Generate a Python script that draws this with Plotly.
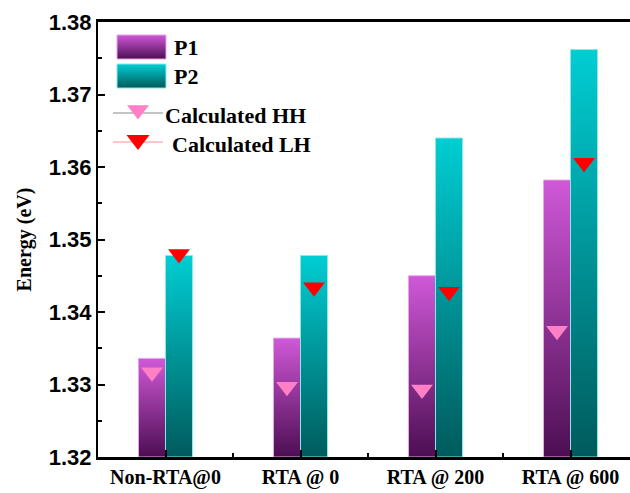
import plotly.graph_objects as go

# ---- data -------------------------------------------------------------
categories = ["Non-RTA@0", "RTA @ 0", "RTA @ 200", "RTA @ 600"]
p1_energy = [1.3336, 1.3364, 1.3450, 1.3582]
p2_energy = [1.3478, 1.3478, 1.3640, 1.3762]
calc_hh = [1.3317, 1.3297, 1.3293, 1.3374]
calc_lh = [1.3480, 1.3434, 1.3428, 1.3606]
y_ticks = [1.32, 1.33, 1.34, 1.35, 1.36, 1.37, 1.38]

# ---- styling ----------------------------------------------------------
Y_MIN, Y_MAX = 1.32, 1.38
BAR_W = 0.2
P1_SCALE = [[0, "#4C0E52"], [1, "#D058D8"]]
P2_SCALE = [[0, "#005A5C"], [1, "#00CED3"]]
P1_EDGE = "#E4A6EA"
P2_EDGE = "#8CE8E8"
HH_COLOR = "#FF80C4"
LH_COLOR = "#FF0000"
SERIF = "Liberation Serif, Times New Roman, serif"
SANS = "Liberation Sans, Arial, sans-serif"

positions = list(range(1, len(categories) + 1))

fig = go.Figure()


def gradient_bar(x0, x1, y0, y1, scale, edge, xaxis="x", yaxis="y"):
    """Rectangle from (x0, y0) to (x1, y1) filled with a vertical gradient
    running from scale[0] at y0 to scale[1] at y1."""
    fig.add_trace(go.Scatter(
        x=[x0, x0, x1, x1, x0],
        y=[y0, y1, y1, y0, y0],
        mode="lines",
        fill="toself",
        fillgradient=dict(type="vertical", colorscale=scale, start=y0, stop=y1),
        line=dict(color=edge, width=1),
        showlegend=False,
        hoverinfo="skip",
        xaxis=xaxis, yaxis=yaxis,
    ))


# bars: P1 left of each category tick, P2 right of it
for pos, v1, v2 in zip(positions, p1_energy, p2_energy):
    gradient_bar(pos - BAR_W, pos, Y_MIN, v1, P1_SCALE, P1_EDGE)
    gradient_bar(pos, pos + BAR_W, Y_MIN, v2, P2_SCALE, P2_EDGE)

# calculated transitions, centred on their bars
fig.add_trace(go.Scatter(
    x=[p - BAR_W / 2 for p in positions], y=calc_hh, mode="markers",
    marker=dict(symbol="triangle-down", size=19, color=HH_COLOR,
                line=dict(width=0)),
    name="Calculated HH", showlegend=False,
))
fig.add_trace(go.Scatter(
    x=[p + BAR_W / 2 for p in positions], y=calc_lh, mode="markers",
    marker=dict(symbol="triangle-down", size=19, color=LH_COLOR,
                line=dict(width=0)),
    name="Calculated LH", showlegend=False,
))

# ---- legend drawn in a pixel-scaled overlay of the plot area ----------
PLOT_W, PLOT_H = 532, 435
gradient_bar(19, 68, 37, 13, P1_SCALE, P1_EDGE, "x2", "y2")
gradient_bar(19, 68, 66, 42, P2_SCALE, P2_EDGE, "x2", "y2")
fig.add_trace(go.Scatter(
    x=[15, 40, 65], y=[91, 91, 91], mode="lines",
    line=dict(color="#8A8A8A", width=1), hoverinfo="skip",
    showlegend=False, xaxis="x2", yaxis="y2"))
fig.add_trace(go.Scatter(
    x=[15, 40, 65], y=[120, 120, 120], mode="lines",
    line=dict(color="#FFB4B4", width=1.5), hoverinfo="skip",
    showlegend=False, xaxis="x2", yaxis="y2"))
fig.add_trace(go.Scatter(
    x=[40], y=[88], mode="markers",
    marker=dict(symbol="triangle-down", size=19, color=HH_COLOR),
    hoverinfo="skip", showlegend=False, xaxis="x2", yaxis="y2"))
fig.add_trace(go.Scatter(
    x=[40], y=[118], mode="markers",
    marker=dict(symbol="triangle-down", size=20, color=LH_COLOR),
    hoverinfo="skip", showlegend=False, xaxis="x2", yaxis="y2"))

legend_font = dict(family=SERIF, size=22, color="black", weight="bold")
for x, y, txt in [(74, 25, "P1"), (74, 54, "P2"),
                  (65, 93, "Calculated HH"), (72, 122, "Calculated LH")]:
    fig.add_annotation(x=x, y=y, xref="x2", yref="y2", text=txt,
                       showarrow=False, xanchor="left", yanchor="middle",
                       font=legend_font)

# ---- axes & layout ----------------------------------------------------
fig.update_layout(
    width=630, height=493,
    margin=dict(l=98, r=0, t=22, b=36),
    paper_bgcolor="white", plot_bgcolor="white",
    showlegend=False,
    xaxis=dict(
        range=[0.5, 0.5 + PLOT_W / 135],
        tickmode="array", tickvals=positions, ticktext=categories,
        ticks="inside", ticklen=7, tickwidth=2, tickcolor="black",
        minor=dict(tickmode="array", tickvals=[1.5, 2.5, 3.5],
                   ticks="inside", ticklen=4, tickwidth=2, tickcolor="black"),
        showline=True, linecolor="black", linewidth=2.5, mirror=True,
        showgrid=False, zeroline=False,
        tickfont=dict(family=SERIF, size=20, color="black", weight="bold"),
        fixedrange=True,
    ),
    yaxis=dict(
        range=[Y_MIN, Y_MAX],
        tickmode="array", tickvals=y_ticks,
        ticktext=[f"{t:.2f}" for t in y_ticks],
        ticks="inside", ticklen=7, tickwidth=2, tickcolor="black",
        minor=dict(dtick=0.005, tick0=Y_MIN, ticks="inside", ticklen=4,
                   tickwidth=2, tickcolor="black"),
        showline=True, linecolor="black", linewidth=2,
        showgrid=False, zeroline=False,
        tickfont=dict(family=SANS, size=22, color="black", weight="bold"),
        title=dict(text="Energy (eV)", standoff=12,
                   font=dict(family=SERIF, size=20, color="black",
                             weight="bold")),
        fixedrange=True,
    ),
    xaxis2=dict(overlaying="x", range=[0, PLOT_W], visible=False,
                fixedrange=True),
    yaxis2=dict(overlaying="y", range=[PLOT_H, 0], visible=False,
                fixedrange=True),
)

fig.write_html("out.html")
